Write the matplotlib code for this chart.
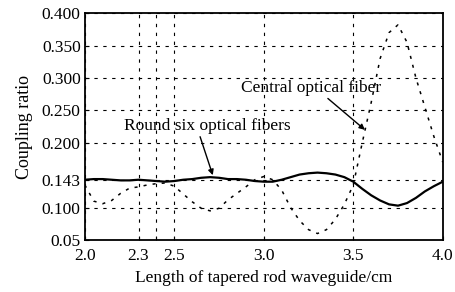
import numpy as np
from matplotlib import pyplot as plt

plt.rcParams['font.family'] = ['Liberation Serif', 'DejaVu Serif']

# length of tapered rod waveguide (cm)
length = [2.00, 2.05, 2.10, 2.15, 2.20, 2.25, 2.30, 2.35, 2.40, 2.45,
          2.50, 2.55, 2.60, 2.65, 2.70, 2.75, 2.80, 2.85, 2.90, 2.95,
          3.00, 3.05, 3.10, 3.15, 3.20, 3.25, 3.30, 3.35, 3.40, 3.45,
          3.50, 3.55, 3.60, 3.65, 3.70, 3.75, 3.80, 3.85, 3.90, 3.95, 4.00]

# round six optical fibers (solid)
round_six = [0.143, 0.144, 0.144, 0.143, 0.142, 0.142, 0.143, 0.142, 0.141, 0.140,
             0.141, 0.143, 0.144, 0.146, 0.147, 0.146, 0.144, 0.144, 0.143, 0.141,
             0.140, 0.140, 0.143, 0.147, 0.151, 0.153, 0.154, 0.153, 0.151, 0.147,
             0.140, 0.129, 0.119, 0.111, 0.105, 0.103, 0.107, 0.115, 0.125, 0.133, 0.140]

# central optical fiber (dotted)
central = [0.135, 0.110, 0.106, 0.111, 0.122, 0.130, 0.132, 0.135, 0.137, 0.138,
           0.133, 0.121, 0.109, 0.099, 0.095, 0.099, 0.112, 0.122, 0.132, 0.143,
           0.148, 0.143, 0.127, 0.100, 0.080, 0.066, 0.060, 0.066, 0.082, 0.105,
           0.135, 0.200, 0.262, 0.330, 0.370, 0.382, 0.355, 0.300, 0.255, 0.210, 0.170]

xticks = [2.0, 2.3, 2.4, 2.5, 3.0, 3.5, 4.0]
xlabels = ['2.0', '2.3', '', '2.5', '3.0', '3.5', '4.0']
yticks = [0.05, 0.100, 0.143, 0.200, 0.250, 0.300, 0.350, 0.400]
ylabels = ['0.05', '0.100', '0.143', '0.200', '0.250', '0.300', '0.350', '0.400']

fig = plt.figure(figsize=(4.56, 2.92), dpi=100)
ax = fig.add_axes([0.186, 0.178, 0.785, 0.777])

ax.plot(length, round_six, color='black', linewidth=1.6)
ax.plot(length, central, color='black', linewidth=1.1, linestyle=(0, (2, 4)))

ax.set_xlim(2.0, 4.0)
ax.set_ylim(0.05, 0.400)
ax.set_xticks(xticks)
ax.set_xticklabels(xlabels)
ax.set_yticks(yticks)
ax.set_yticklabels(ylabels)
ax.tick_params(direction='in', length=3, labelsize=12.5, colors='black', pad=3)
ax.tick_params(axis='x', pad=6)
ax.grid(True, color='black', linestyle=(0, (3, 5)), linewidth=0.8)
for s in ax.spines.values():
    s.set_linewidth(1.3)

ax.set_xlabel('Length of tapered rod waveguide/cm', fontsize=12.5, labelpad=4)
ax.set_ylabel('Coupling ratio', fontsize=13, labelpad=6)

ax.annotate('Round six optical fibers', xy=(2.715, 0.150), xytext=(2.22, 0.226),
            fontsize=12.5, va='center', ha='left',
            arrowprops=dict(arrowstyle='-|>', color='black', lw=1, shrinkA=0, shrinkB=0,
                            mutation_scale=8, relpos=(0.45, 0)))
ax.annotate('Central optical fiber', xy=(3.565, 0.220), xytext=(2.87, 0.285),
            fontsize=12.5, va='center', ha='left',
            arrowprops=dict(arrowstyle='-|>', color='black', lw=1, shrinkA=0, shrinkB=0,
                            mutation_scale=8, relpos=(0.6, 0)))

fig.savefig('out.png', dpi=100)
